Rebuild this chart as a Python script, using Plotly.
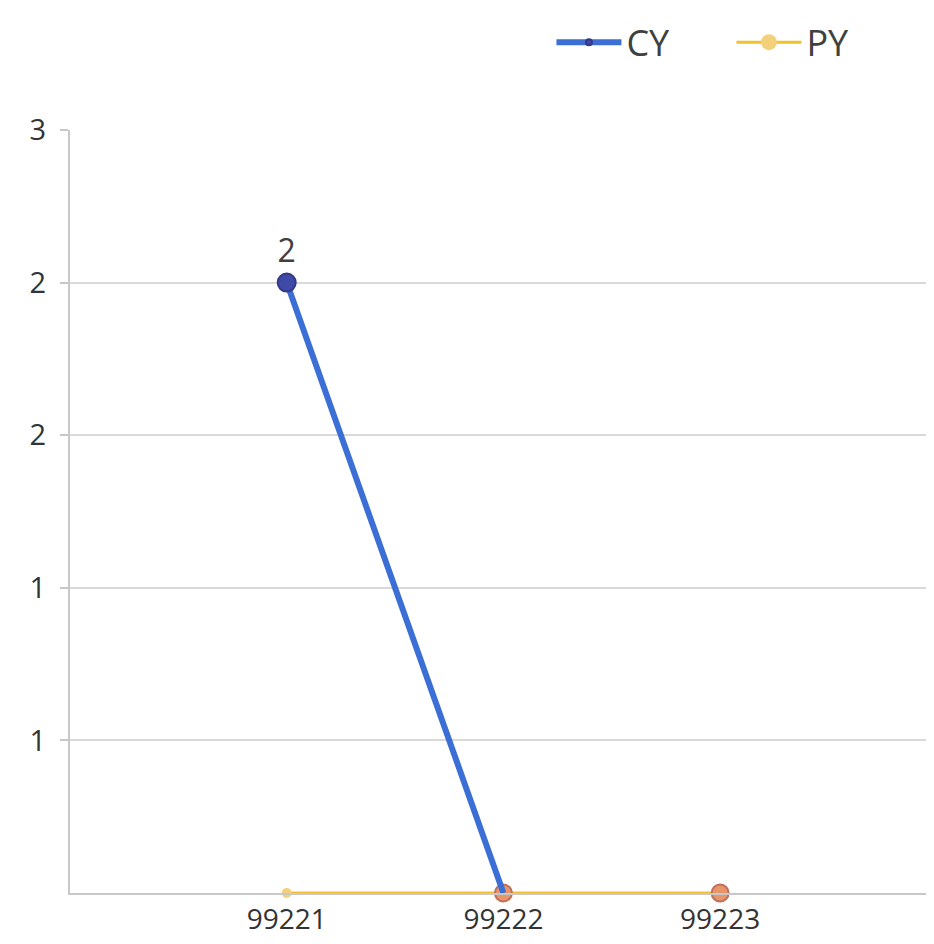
import plotly.graph_objects as go

# data
codes = ["99221", "99222", "99223"]
cy = [2, 0, None]
py = [0, 0, 0]
y_ticks = [0.5, 1, 1.5, 2, 2.5]
y_tick_text = ["1", "1", "2", "2", "3"]

FONT = "Open Sans, Noto Sans, sans-serif"

fig = go.Figure()

fig.add_trace(go.Scatter(
    x=codes, y=py, name="PY",
    mode="lines+markers",
    line=dict(color="#f2c12e", width=3),
    marker=dict(size=[8, 17, 17], opacity=1,
                color=["#f3d07a", "#e8956a", "#e8956a"],
                line=dict(color=["#f3d07a", "#c0705a", "#c0705a"], width=2)),
    cliponaxis=False,
))

fig.add_trace(go.Scatter(
    x=codes, y=cy, name="CY",
    mode="lines+markers+text",
    line=dict(color="#3b6fd6", width=6, shape="spline"),
    marker=dict(size=[18, 0.1, 0.1], color="#3f4aa6", opacity=1,
                line=dict(color="#33388a", width=2)),
    text=[str(v) if v else "" for v in cy],
    textposition="top center",
    textfont=dict(size=32, color="#404040", family=FONT),
    cliponaxis=False,
))

fig.update_layout(
    width=918, height=928,
    margin=dict(l=62, r=0, t=122, b=43),
    plot_bgcolor="white", paper_bgcolor="white",
    font=dict(family=FONT, color="#404040"),
    showlegend=True,
    legend=dict(orientation="h", x=0.983, xanchor="right", y=1.115, yanchor="middle",
                traceorder="reversed",
                font=dict(size=36, color="#404040"), itemwidth=65,
                entrywidth=100),
    xaxis=dict(type="category", range=[-1, 2.95], automargin=False,
               showgrid=False, showline=True, linecolor="#c8c8c8", linewidth=2,
               tickfont=dict(size=28, color="#333333"), ticks=""),
    yaxis=dict(range=[0, 2.5], tickvals=y_ticks, ticktext=y_tick_text, automargin=False,
               showgrid=True, gridcolor="#d9d9d9", gridwidth=2,
               showline=True, linecolor="#c8c8c8", linewidth=2,
               ticks="outside", ticklen=8, tickcolor="#c8c8c8", tickwidth=2,
               ticklabelstandoff=8,
               tickfont=dict(size=29, color="#333333"), zeroline=False),
)

fig.write_html("out.html")
